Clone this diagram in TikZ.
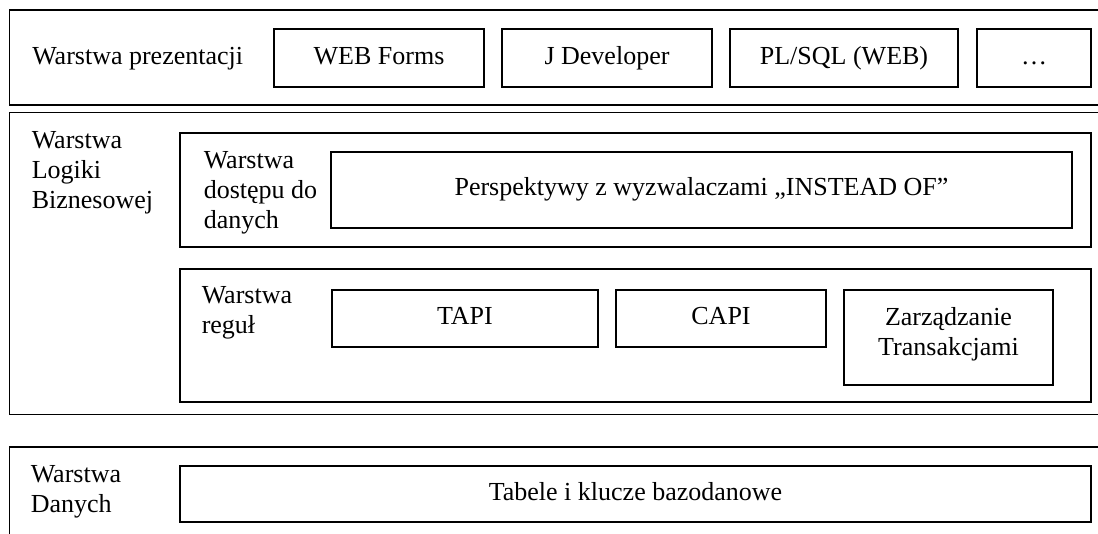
\documentclass[tikz,border=0pt]{standalone}
\usepackage{fontspec}
\setmainfont{Liberation Serif}
\begin{document}
\begin{tikzpicture}[x=1pt,y=-1pt,line width=1.5pt,
  every node/.style={font=\fontsize{26pt}{30pt}\selectfont, inner sep=0pt},
  box/.style={draw, rectangle, text height=18pt, text depth=6pt},
  label/.style={align=left, anchor=north west},
  frame/.style={draw, line width=1.5pt}]
\useasboundingbox (0,0) rectangle (1098,533);
% outer frames (open on the right)
\draw[frame] (1110,10) -| (9.5,105) -- (1110,105);
\draw[frame] (1110,112.5) -| (9.5,414.5) -- (1110,414.5);
\draw[frame] (1110,447) -| (9.5,545);
% presentation layer
\node[anchor=base west] (lpres) at (31.5,64) {Warstwa prezentacji};
\node[box, minimum width=210pt, minimum height=58pt] (web) at (379,58) {WEB Forms};
\node[box, minimum width=210pt, minimum height=58pt] (jdev) at (607,58) {J Developer};
\node[box, minimum width=228pt, minimum height=58pt] (plsql) at (844,58) {PL/SQL (WEB)};
\node[box, minimum width=114pt, minimum height=58pt] (dots) at (1034,58) {…};
% business logic layer
\node[label] (lbiz) at (31,130.8) {Warstwa\\Logiki\\Biznesowej};
\node[draw, rectangle, minimum width=911pt, minimum height=114pt] (access) at (635.5,190) {};
\node[label] (lacc) at (203,150.8) {Warstwa\\dostępu do\\danych};
\node[box, minimum width=741pt, minimum height=76pt, text height=17pt] (persp) at (701.5,190) {Perspektywy z wyzwalaczami „INSTEAD OF”};
\node[draw, rectangle, minimum width=911pt, minimum height=133pt] (rules) at (635.5,335.5) {};
\node[label] (lrules) at (201,285.8) {Warstwa\\reguł};
\node[box, minimum width=266pt, minimum height=57pt] (tapi) at (465,318.5) {TAPI};
\node[box, minimum width=210pt, minimum height=57pt] (capi) at (721,318.5) {CAPI};
\node[draw, rectangle, align=center, text depth=12pt, minimum width=209pt, minimum height=95pt] (trans) at (948.5,337.5) {Zarządzanie\\Transakcjami};
% data layer
\node[label] (ldata) at (30,464.8) {Warstwa\\Danych};
\node[box, minimum width=911pt, minimum height=56pt] (tables) at (635.5,494) {Tabele i klucze bazodanowe};
\end{tikzpicture}
\end{document}
